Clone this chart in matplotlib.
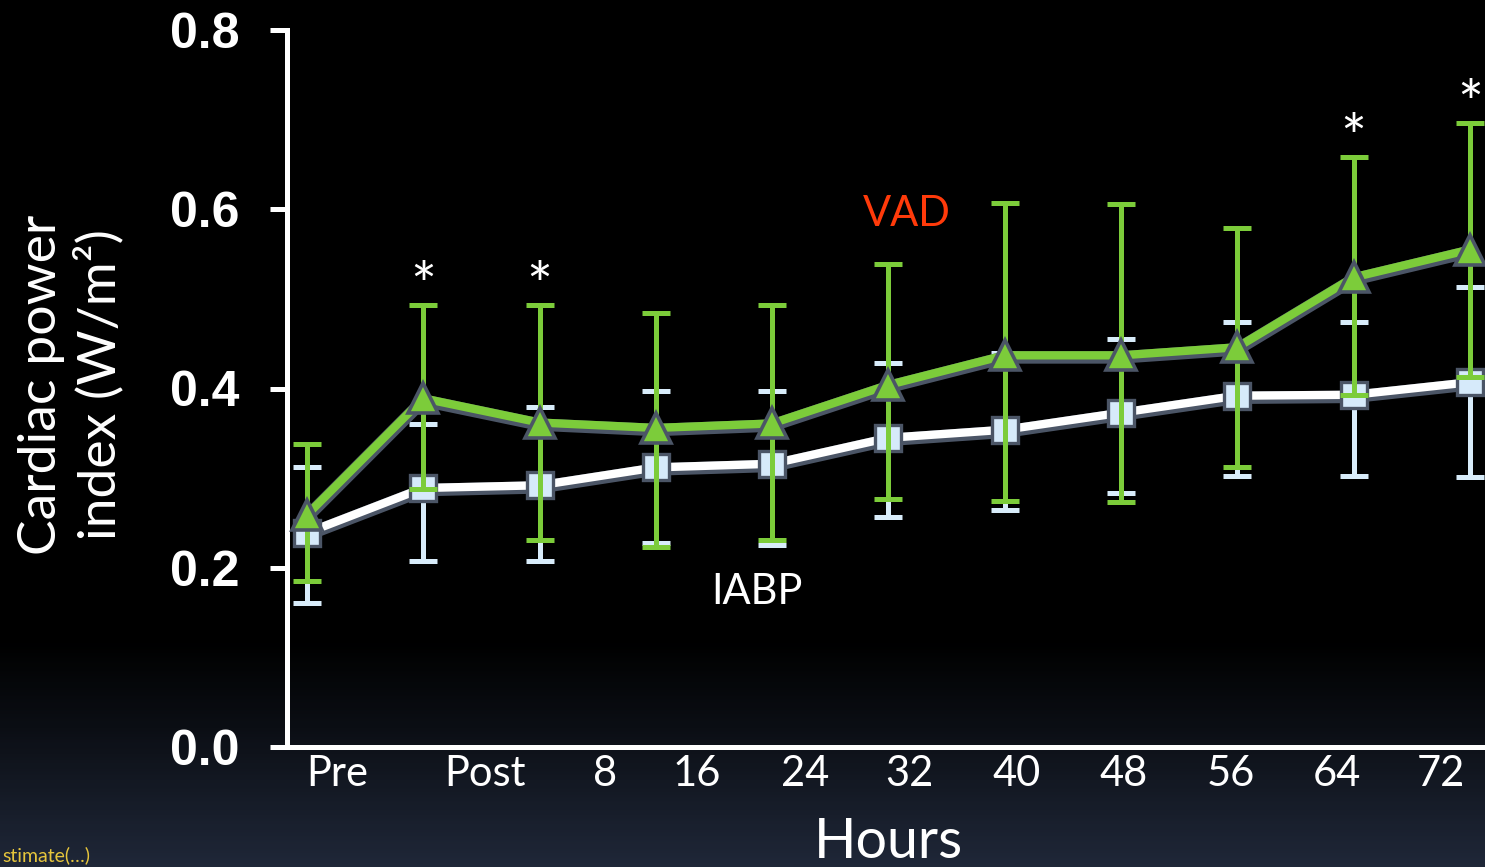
import matplotlib
matplotlib.use("Agg")
import matplotlib.pyplot as plt
import matplotlib.patheffects as pe
import numpy as np
from matplotlib.colors import LinearSegmentedColormap

# data
hours = ['Pre', 'Post', '8', '16', '24', '32', '40', '48', '56', '64', '72']

vad_mean = [0.259, 0.389, 0.362, 0.356, 0.361, 0.404, 0.437, 0.437, 0.446, 0.524, 0.555]
vad_upper = [0.338, 0.493, 0.493, 0.484, 0.493, 0.539, 0.607, 0.606, 0.579, 0.658, 0.696]
vad_lower = [0.185, 0.288, 0.231, 0.223, 0.231, 0.277, 0.274, 0.273, 0.312, 0.393, 0.413]

iabp_mean = [0.239, 0.289, 0.292, 0.312, 0.316, 0.345, 0.354, 0.373, 0.392, 0.393, 0.407]
iabp_upper = [0.312, 0.360, 0.379, 0.397, 0.397, 0.428, 0.440, 0.455, 0.474, 0.474, 0.513]
iabp_lower = [0.161, 0.208, 0.208, 0.228, 0.225, 0.257, 0.264, 0.283, 0.302, 0.302, 0.301]

# time points marked significant
star_idx = [1, 2, 9, 10]

# label positions (slide layout, labels are not under the points)
label_pos = [0.26, 1.53, 2.56, 3.35, 4.28, 5.18, 6.10, 7.02, 7.94, 8.86, 9.75]

green = '#7ccc3a'
iabp_err = '#d8ecfa'
edge = '#4b5566'

fig = plt.figure(figsize=(14.85, 8.67), dpi=100)
fig.patch.set_facecolor('black')

# background gradient
bg = fig.add_axes([0, 0, 1, 1], zorder=-10)
cmap = LinearSegmentedColormap.from_list('bg', [(0, '#000000'), (0.74, '#000000'), (0.84, '#0b0e14'), (1.0, '#1f2738')])
grad = np.linspace(0, 1, 300).reshape(-1, 1)
bg.imshow(grad, aspect='auto', cmap=cmap, extent=[0, 1, 0, 1], origin='upper')
bg.axis('off')

ax = fig.add_axes([287 / 1485, 1 - 747 / 867, 1 - 287 / 1485, (747 - 30) / 867])
ax.set_facecolor('none')

x = np.arange(len(hours))
vad_mean = np.array(vad_mean)
iabp_mean = np.array(iabp_mean)

shadow = [pe.Stroke(linewidth=9, foreground=edge, offset=(0, -1.5)), pe.Normal()]

# IABP
ax.errorbar(x, iabp_mean, yerr=[iabp_mean - np.array(iabp_lower), np.array(iabp_upper) - iabp_mean],
            fmt='none', ecolor=iabp_err, elinewidth=3.6, capsize=10, capthick=3.6, zorder=2)
ax.plot(x, iabp_mean, color='white', lw=6, zorder=3, path_effects=shadow)
ax.plot(x, iabp_mean, ls='none', marker='s', ms=19, mfc='#d6eafa', mec=edge, mew=2.4, zorder=4)

# VAD
ax.errorbar(x, vad_mean, yerr=[vad_mean - np.array(vad_lower), np.array(vad_upper) - vad_mean],
            fmt='none', ecolor=green, elinewidth=3.6, capsize=10, capthick=3.6, zorder=5)
ax.plot(x, vad_mean, color=green, lw=6, zorder=6, path_effects=shadow)
ax.plot(x, vad_mean, ls='none', marker='^', ms=21, mfc=green, mec=edge, mew=2.6, zorder=7)

for i in star_idx:
    ax.annotate('*', (x[i], vad_upper[i]), xytext=(0, 11), textcoords='offset points',
                ha='center', va='center', color='white', fontsize=44, family='Lato')

ax.text(5.16, 0.595, 'VAD', color='#ff3a0a', fontsize=30, family='Lato', ha='center', va='center')
ax.text(3.87, 0.173, 'IABP', color='white', fontsize=30, family='Lato', ha='center', va='center')

ax.set_xlim(-0.172, 10.13)
ax.set_ylim(0, 0.8)
ax.set_yticks([0.0, 0.2, 0.4, 0.6, 0.8])
ax.set_yticklabels(['0.0', '0.2', '0.4', '0.6', '0.8'], fontsize=36, fontweight='bold',
                   family='Liberation Sans', color='white')
ax.set_xticks(label_pos)
ax.set_xticklabels(hours, fontsize=30, family='Lato', color='white')
ax.tick_params(axis='x', length=0, pad=6)
ax.tick_params(axis='y', length=12, width=3.6, color='white', pad=22)

for s in ['top', 'right']:
    ax.spines[s].set_visible(False)
for s in ['left', 'bottom']:
    ax.spines[s].set_color('white')
    ax.spines[s].set_linewidth(3.6)
ax.spines['bottom'].set_bounds(-0.2, 10.13)

fig.text(71 / 1485, 1 - 385 / 867, 'Cardiac power\nindex (W/m\u00b2)', rotation=90, color='white',
         fontsize=38.5, family='Lato', ha='center', va='center', multialignment='center', linespacing=1.2)
fig.text(888 / 1485, 1 - 843 / 867, 'Hours', color='white', fontsize=40, family='Lato',
         ha='center', va='center')
fig.text(2 / 1485, 3 / 867, 'stimate(\u2026)', color='#e6c53c', fontsize=14, family='Lato',
         ha='left', va='bottom')

fig.savefig('out.png', dpi=100, facecolor=fig.get_facecolor())
